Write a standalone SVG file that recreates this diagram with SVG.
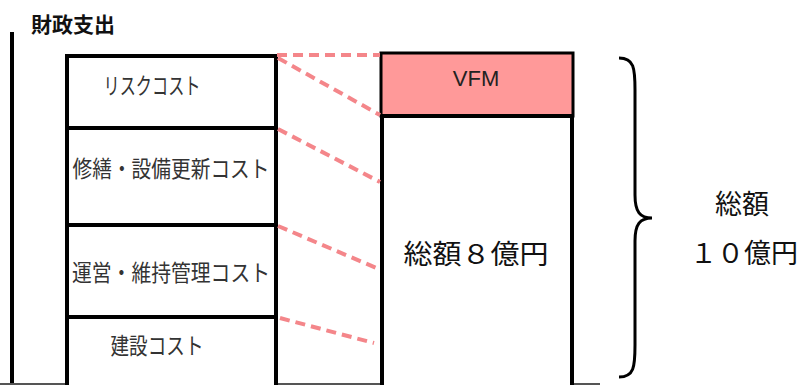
<svg xmlns="http://www.w3.org/2000/svg" width="803" height="385" viewBox="0 0 803 385">
<style>
.box{fill:#fff;stroke:#000;stroke-width:4}
.lbl{font-family:"Noto Sans CJK JP","Liberation Sans",sans-serif;font-size:23px;fill:#333;text-anchor:middle}
.ser{font-family:"Liberation Serif","Noto Sans CJK JP",serif;font-size:27px;fill:#111;text-anchor:middle}
.dash{stroke:#f4868a;stroke-width:4;stroke-dasharray:10 6;fill:none}
</style>
<rect width="803" height="385" fill="#fff"/>
<text x="31" y="32" font-family="Noto Sans CJK JP, Liberation Sans, sans-serif" font-weight="bold" font-size="21" fill="#111">財政支出</text>
<line x1="12" y1="32" x2="12" y2="385" stroke="#000" stroke-width="4"/>
<line x1="0" y1="384" x2="600" y2="384" stroke="#555" stroke-width="2"/>
<g id="risk"><rect class="box" x="67" y="56" width="209" height="72"/><text class="lbl" x="152" y="94" textLength="97" lengthAdjust="spacingAndGlyphs">リスクコスト</text></g>
<g id="repair"><rect class="box" x="67" y="128" width="209" height="97"/><text class="lbl" x="171" y="177" textLength="197" lengthAdjust="spacingAndGlyphs">修繕・設備更新コスト</text></g>
<g id="operate"><rect class="box" x="67" y="225" width="209" height="92"/><text class="lbl" x="171" y="281" textLength="198" lengthAdjust="spacingAndGlyphs">運営・維持管理コスト</text></g>
<g id="build"><rect class="box" x="67" y="317" width="209" height="70"/><text class="lbl" x="157" y="354" textLength="93" lengthAdjust="spacingAndGlyphs">建設コスト</text></g>
<g id="vfm"><rect x="381" y="53" width="192" height="63" fill="#ff9999" stroke="#000" stroke-width="3"/><text x="476" y="86" font-family="Liberation Sans, sans-serif" font-size="22" fill="#222" text-anchor="middle">VFM</text></g>
<g id="total8"><rect class="box" x="382" y="116" width="190" height="271"/><text class="ser" x="476" y="264" textLength="145" lengthAdjust="spacingAndGlyphs">総額８億円</text></g>
<g id="connectors">
<line class="dash" x1="277" y1="55" x2="380" y2="55"/>
<line class="dash" x1="278" y1="58" x2="380" y2="115"/>
<line class="dash" x1="278" y1="129" x2="380" y2="182"/>
<line class="dash" x1="278" y1="226" x2="381" y2="270"/>
<line class="dash" x1="280" y1="318" x2="374" y2="343"/>
</g>
<g id="brace"><path d="M619,58 C634,58 635,68 635,90 L635,195 C635,212 640,218 652,218 C640,218 635,224 635,241 L635,345 C635,367 634,377 619,377" fill="none" stroke="#000" stroke-width="3"/></g>
<g id="total10"><text class="ser" x="742" y="214">総額</text><text class="ser" x="744" y="263" textLength="108" lengthAdjust="spacingAndGlyphs">１０億円</text></g>
</svg>
